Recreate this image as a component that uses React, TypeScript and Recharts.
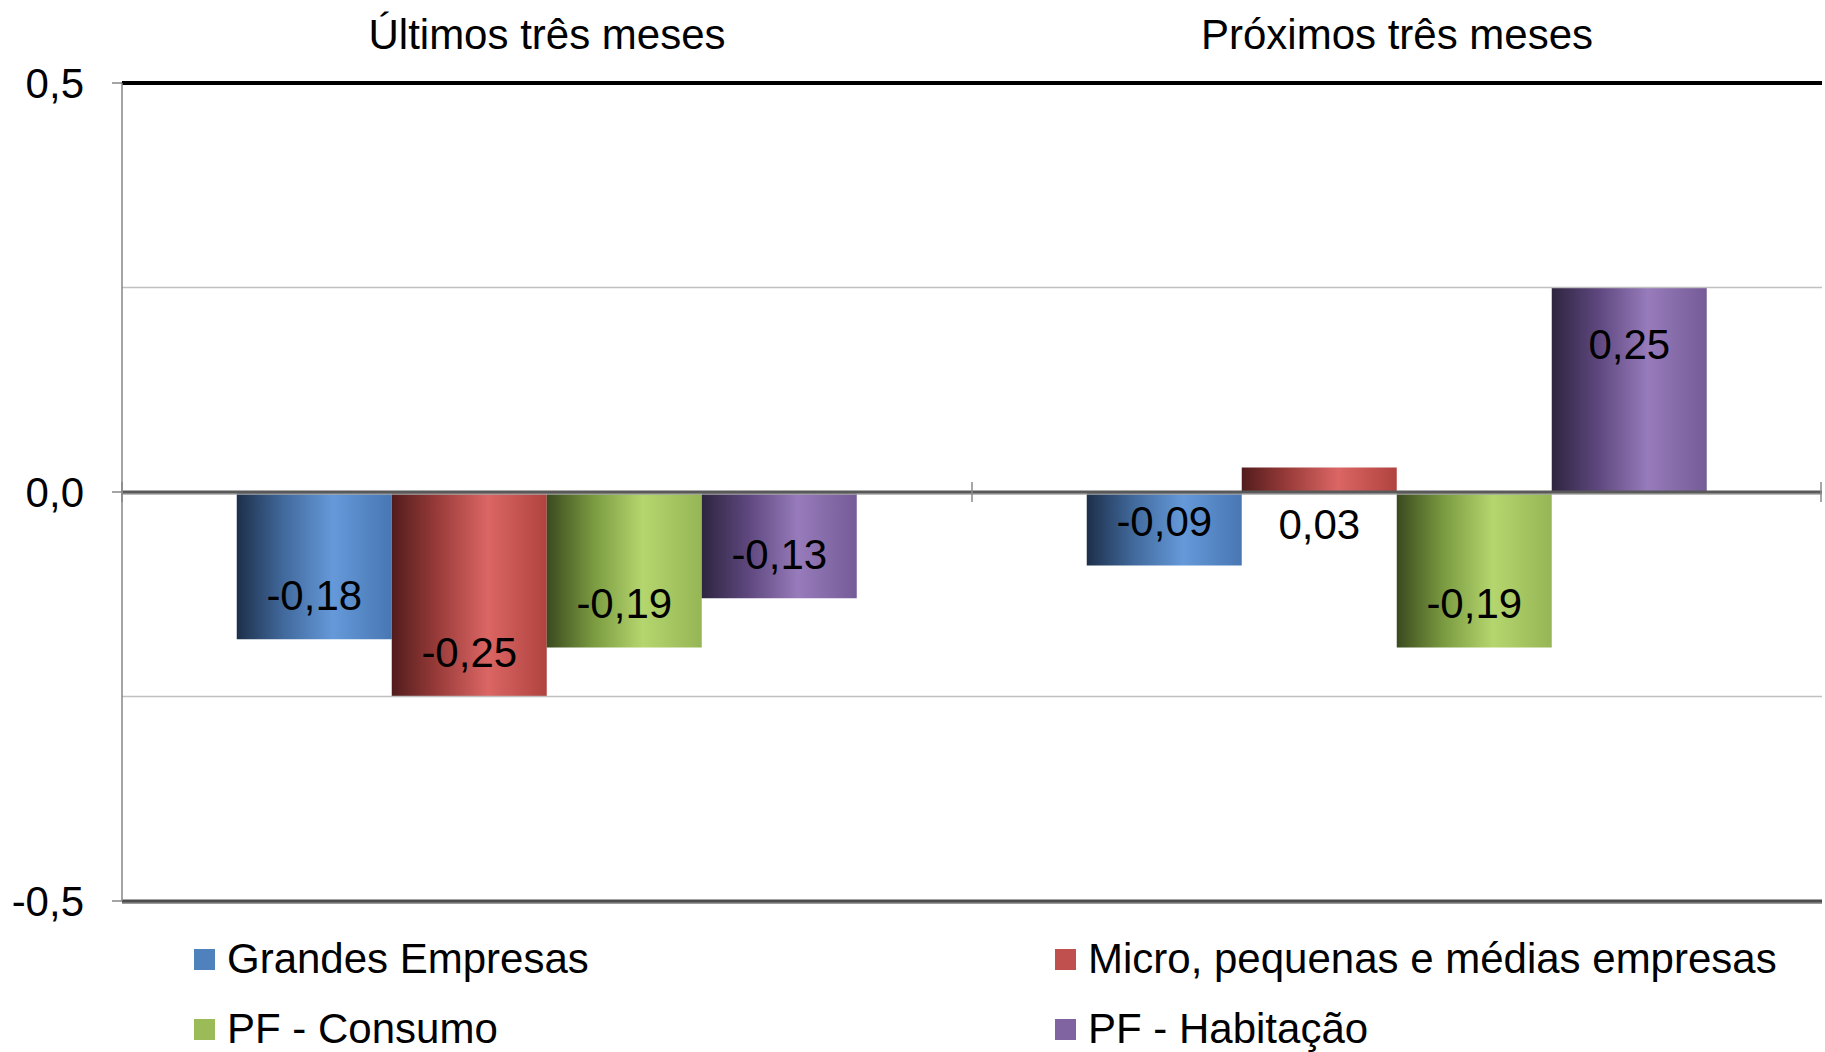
import React from 'react';
import { BarChart, Bar, XAxis, YAxis, ReferenceLine, Legend } from 'recharts';

const categories = ['Últimos três meses', 'Próximos três meses'];
const seriesNames = ['Grandes Empresas', 'Micro, pequenas e médias empresas', 'PF - Consumo', 'PF - Habitação'];
const grandesEmpresas = [-0.18, -0.09];
const microPequenasMedias = [-0.25, 0.03];
const pfConsumo = [-0.19, -0.19];
const pfHabitacao = [-0.13, 0.25];
const yTicks = [-0.5, 0, 0.5];
const gridValues = [0.25, -0.25];

const baseColors = ['#4F81BD', '#C0504D', '#9BBB59', '#8064A2'];
const gradientStops = [
  ['#1d2f4a', '#41699c', '#6599d9', '#4877b3'],
  ['#521c1c', '#9a3c3a', '#db6664', '#b0433f'],
  ['#3a4a1f', '#7a9a40', '#b5d66e', '#96b555'],
  ['#2e2540', '#5e477e', '#977bbb', '#755b97'],
];
const seriesKeys = ['s0', 's1', 's2', 's3'];
const seriesValues = [grandesEmpresas, microPequenasMedias, pfConsumo, pfHabitacao];

const data = categories.map((c, i) => {
  const row: any = { category: c };
  seriesKeys.forEach((k, j) => {
    row[k] = seriesValues[j][i];
  });
  return row;
});

const FONT = '"Liberation Sans", Arial, Helvetica, sans-serif';
const fmt2 = (v: number) => v.toFixed(2).replace('.', ',');
const fmt1 = (v: number) => v.toFixed(1).replace('.', ',');

const renderLabel = (props: any) => {
  const x = Number(props.x);
  const y = Number(props.y);
  const w = Number(props.width);
  const h = Number(props.height);
  const v = Number(props.value);
  const top = Math.min(y, y + h);
  const bottom = Math.max(y, y + h);
  const cy = v >= 0 ? top + 57 : bottom - 44;
  return (
    <text
      x={x + w / 2}
      y={cy}
      textAnchor="middle"
      dominantBaseline="central"
      fontSize={42}
      fontFamily={FONT}
      fill="#000"
    >
      {fmt2(v)}
    </text>
  );
};

const TopTick = (props: any) => {
  const { x, y, payload } = props;
  return (
    <text x={x} y={y} textAnchor="middle" fontSize={42} fontFamily={FONT} fill="#000">
      {payload.value}
    </text>
  );
};

const ZeroLine = (props: any) => {
  const { x1, y1, x2, y2 } = props;
  const mid = (Number(x1) + Number(x2)) / 2;
  return (
    <g>
      <line x1={x1} y1={Number(y1) + 2} x2={x2} y2={Number(y2) + 2} stroke="#a6a6a6" strokeWidth={1.5} />
      <line x1={x1} y1={y1} x2={x2} y2={y2} stroke="#595959" strokeWidth={3} />
      {[Number(x1), mid, Number(x2) - 1].map((tx, i) => (
        <line key={i} x1={tx} y1={Number(y1) - 10} x2={tx} y2={Number(y1) + 10} stroke="#8a8a8a" strokeWidth={1.5} />
      ))}
    </g>
  );
};

const BottomLine = (props: any) => {
  const { x1, y1, x2, y2 } = props;
  return (
    <g>
      <line x1={x1} y1={Number(y1) + 2} x2={x2} y2={Number(y2) + 2} stroke="#9a9a9a" strokeWidth={2} />
      <line x1={x1} y1={y1} x2={x2} y2={y2} stroke="#4d4d4d" strokeWidth={3} />
    </g>
  );
};

const renderLegend = () => (
  <div
    style={{
      display: 'grid',
      gridTemplateColumns: '861px auto',
      rowGap: 20,
      paddingLeft: 194,
      fontFamily: FONT,
      fontSize: 42,
      color: '#000',
    }}
  >
    {seriesNames.map((name, i) => (
      <div key={name} style={{ display: 'flex', alignItems: 'center', height: 50, whiteSpace: 'nowrap' }}>
        <span style={{ display: 'inline-block', width: 21, height: 21, background: baseColors[i], marginRight: 12 }} />
        <span>{name}</span>
      </div>
    ))}
  </div>
);

export default function App() {
  return (
    <div style={{ position: 'absolute', left: 0, top: 0, background: '#fff' }}>
      <BarChart
        width={1825}
        height={1052}
        data={data}
        margin={{ top: 23, right: 3, bottom: 31, left: 0 }}
        barCategoryGap="13.5%"
        barGap={0}
      >
        <defs>
          {gradientStops.map((s, i) => (
            <linearGradient key={i} id={`grad${i}`} x1="0" y1="0" x2="1" y2="0">
              <stop offset="0%" stopColor={s[0]} />
              <stop offset="30%" stopColor={s[1]} />
              <stop offset="62%" stopColor={s[2]} />
              <stop offset="100%" stopColor={s[3]} />
            </linearGradient>
          ))}
        </defs>
        <XAxis
          dataKey="category"
          orientation="top"
          height={60}
          axisLine={false}
          tickLine={false}
          tickSize={0}
          tickMargin={34}
          tick={<TopTick />}
          interval={0}
        />
        <YAxis
          type="number"
          domain={[-0.5, 0.5]}
          ticks={yTicks}
          width={122}
          allowDataOverflow
          axisLine={{ stroke: '#868686', strokeWidth: 1.5 }}
          tickLine={{ stroke: '#868686', strokeWidth: 1.5 }}
          tickSize={10}
          tickMargin={28}
          tickFormatter={(v: number) => fmt1(v)}
          tick={{ fontSize: 42, fontFamily: FONT, fill: '#000' }}
        />
        {gridValues.map((g) => (
          <ReferenceLine key={g} y={g} stroke="#c0c0c0" strokeWidth={1.5} />
        ))}
        {seriesKeys.map((k, i) => (
          <Bar
            key={k}
            dataKey={k}
            name={seriesNames[i]}
            fill={`url(#grad${i})`}
            isAnimationActive={false}
            label={renderLabel}
          />
        ))}
        <ReferenceLine y={0} shape={<ZeroLine />} />
        <ReferenceLine y={0.5} stroke="#000" strokeWidth={4} />
        <ReferenceLine y={-0.5} shape={<BottomLine />} />
        <Legend content={renderLegend} wrapperStyle={{ left: 0, top: 934, width: 1825 }} />
      </BarChart>
    </div>
  );
}
